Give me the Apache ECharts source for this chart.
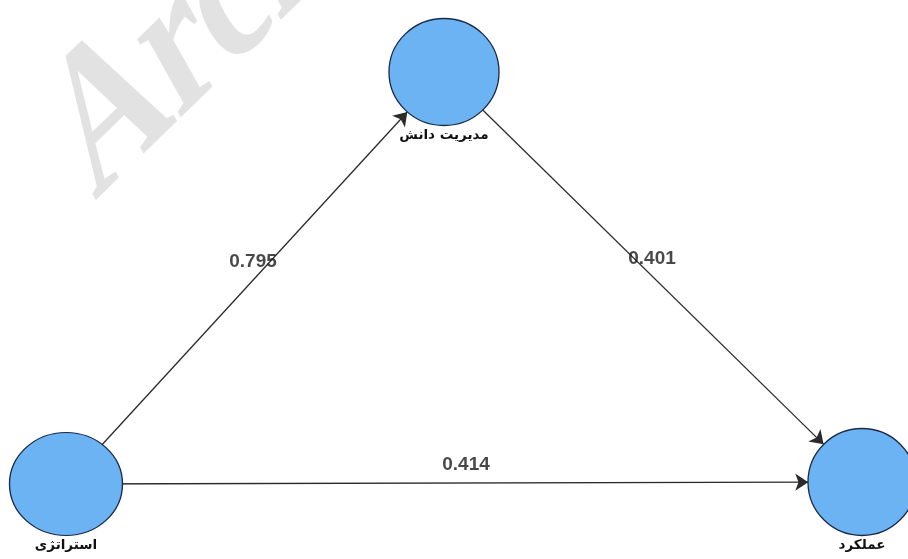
<!DOCTYPE html>
<html>
<head>
<meta charset="utf-8">
<script src="https://cdn.jsdelivr.net/npm/echarts@6/dist/echarts.min.js"></script>
<style>
html,body{margin:0;padding:0;background:#fff;}
#chart{width:908px;height:559px;}
</style>
</head>
<body>
<div id="chart"></div>
<script>
// Nodes (constructs)
const nodeNames = ['استراتژی', 'مدیریت دانش', 'عملکرد'];
const nodeX = [66, 444, 862];
const nodeY = [484, 72, 482];
const nodeW = [113, 110, 108];
const nodeH = [103, 107, 107];

// Paths (source -> target) and coefficients
const linkSource = [0, 1, 0];
const linkTarget = [1, 2, 2];
const linkValue = [0.795, 0.401, 0.414];

// Where each coefficient label sits
const labelX = [253, 652, 466];
const labelY = [262, 259, 465];

// Watermark: a slanted, stretched serif text (affine map from text space to screen)
const wmText = 'Archive of SID';
const wmCol1 = [1.15, -1.12];   // screen step per px along baseline
const wmCol2 = [0.95, 1.70];    // screen step per px downward in the glyph
const wmStart = [93, 198];      // baseline start on screen

function svd2(a, b, c, d) {
  const E = (a + d) / 2, F = (a - d) / 2, G = (c + b) / 2, H = (c - b) / 2;
  const Q = Math.hypot(E, H), R = Math.hypot(F, G);
  const a1 = Math.atan2(G, F), a2 = Math.atan2(H, E);
  return {sx: Q + R, sy: Q - R, theta: (a2 - a1) / 2, phi: (a2 + a1) / 2};
}
const sv = svd2(wmCol1[0], wmCol2[0], wmCol1[1], wmCol2[1]);
const baseOff = 24; // alphabetic baseline below the middle line for a 100px font
const wmX = wmStart[0] - wmCol2[0] * baseOff;
const wmY = wmStart[1] - wmCol2[1] * baseOff;

const chart = echarts.init(document.getElementById('chart'), null, {renderer: 'canvas'});

const nodes = nodeNames.map((n, i) => ({
  name: n,
  value: [nodeX[i], nodeY[i]],
  symbolSize: [nodeW[i], nodeH[i]]
}));
const links = linkSource.map((s, i) => ({source: s, target: linkTarget[i], value: linkValue[i]}));
const labelData = linkValue.map((v, i) => ({value: [labelX[i], labelY[i]], text: v.toFixed(3)}));

chart.setOption({
  backgroundColor: '#ffffff',
  animation: false,
  grid: {left: 0, right: 0, top: 0, bottom: 0},
  xAxis: {type: 'value', min: 0, max: 908, show: false},
  yAxis: {type: 'value', min: 0, max: 559, inverse: true, show: false},
  graphic: [{
    type: 'group',
    x: wmX, y: wmY,
    rotation: -sv.phi,
    scaleX: sv.sx,
    scaleY: sv.sy,
    z: -10,
    silent: true,
    children: [{
      type: 'text',
      rotation: -sv.theta,
      style: {
        text: wmText,
        font: 'bold 100px "Liberation Serif"',
        fill: '#e2e2e2',
        textAlign: 'left',
        textVerticalAlign: 'middle'
      }
    }]
  }],
  series: [{
    type: 'graph',
    coordinateSystem: 'cartesian2d',
    layout: 'none',
    z: 3,
    symbol: 'circle',
    data: nodes,
    links: links,
    edgeSymbol: ['none', 'arrow'],
    edgeSymbolSize: [0, 13],
    itemStyle: {color: '#6cb3f4', borderColor: '#1c2a48', borderWidth: 1.3},
    lineStyle: {color: '#2b2b2b', width: 1.3, opacity: 1, curveness: 0},
    label: {
      show: true,
      position: 'bottom',
      distance: 2,
      fontFamily: '"DejaVu Sans"',
      fontWeight: 'bold',
      fontSize: 13.5,
      color: '#111'
    },
    emphasis: {disabled: true}
  }, {
    type: 'scatter',
    z: 4,
    data: labelData,
    symbolSize: 1,
    itemStyle: {color: 'rgba(0,0,0,0)'},
    label: {
      show: true,
      position: 'inside',
      formatter: p => p.data.text,
      fontFamily: '"Liberation Sans"',
      fontWeight: 'bold',
      fontSize: 19,
      color: '#1a1a1a'
    },
    emphasis: {disabled: true}
  }]
});
</script>
</body>
</html>
